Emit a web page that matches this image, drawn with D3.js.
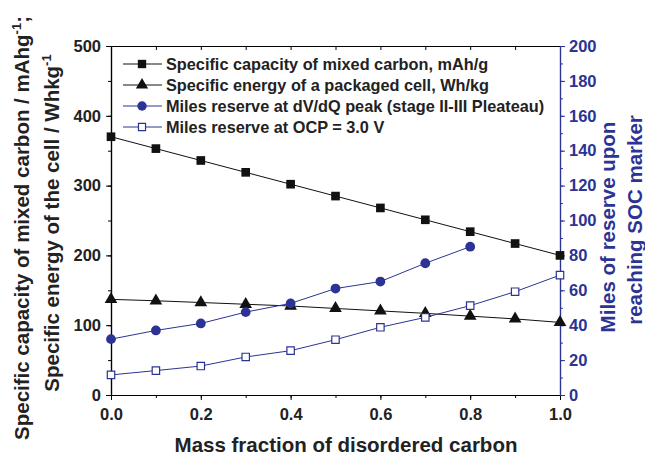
<!DOCTYPE html>
<html>
<head>
<meta charset="utf-8">
<script src="https://cdn.jsdelivr.net/npm/d3@7"></script>
<style>
  body { margin: 0; background: #fff; }
  text { font-family: "Liberation Sans", Arial, sans-serif; font-weight: bold; }
</style>
</head>
<body>
<div id="app"></div>
<script>
const massFraction = [0.0, 0.1, 0.2, 0.3, 0.4, 0.5, 0.6, 0.7, 0.8, 0.9, 1.0];
const specificCapacity = [370, 353, 336, 319, 302, 285, 268, 251, 234, 217, 200];
const specificEnergy = [137, 135, 132.5, 130, 127.5, 124, 120.5, 117, 113, 109, 104];
const milesDvdq = [32, 37, 41, 47.5, 52.5, 61, 65, 75.5, 85];
const milesOcp = [11.5, 14, 16.6, 21.8, 25.4, 31.7, 38.8, 44.5, 51.2, 59.2, 68.7];
const leftTicks = [0, 100, 200, 300, 400, 500];
const rightTicks = [0, 20, 40, 60, 80, 100, 120, 140, 160, 180, 200];
const xTicks = [0.0, 0.2, 0.4, 0.6, 0.8, 1.0];
const legendLabels = [
  "Specific capacity of mixed carbon, mAh/g",
  "Specific energy of a packaged cell, Wh/kg",
  "Miles reserve at dV/dQ peak (stage II-III Pleateau)",
  "Miles reserve at OCP = 3.0 V"
];

const w = 645, h = 455;
const blue = "#2b3494";
const m = { left: 111, right: 560, top: 46, bottom: 395 };

const svg = d3.select("#app").append("svg").attr("width", w).attr("height", h);

const x = d3.scaleLinear().domain([0, 1]).range([m.left, m.right]);
const yL = d3.scaleLinear().domain([0, 500]).range([m.bottom, m.top]);
const yR = d3.scaleLinear().domain([0, 200]).range([m.bottom, m.top]);

//axes
const fmt1 = d3.format(".1f");
const bottomMin = svg.append("g").attr("transform", `translate(0,${m.bottom})`)
  .call(d3.axisBottom(x).tickValues(d3.range(0, 1.01, 0.1)).tickSize(3).tickFormat(""));
bottomMin.select(".domain").remove();
const bottomMaj = svg.append("g").attr("transform", `translate(0,${m.bottom})`)
  .call(d3.axisBottom(x).tickValues(xTicks).tickSize(5).tickSizeOuter(0).tickPadding(8).tickFormat(fmt1));
bottomMaj.selectAll("text").attr("font-size", 16.5).attr("fill", "#222");

svg.append("g").attr("transform", `translate(0,${m.top})`)
  .call(d3.axisBottom(x).tickValues(d3.range(0, 1.01, 0.1)).tickSize(4).tickSizeOuter(0).tickFormat(""));

svg.append("g").attr("transform", `translate(${m.left},0)`)
  .call(d3.axisLeft(yL).tickValues(d3.range(0, 501, 50)).tickSize(3).tickFormat(""));
const leftMaj = svg.append("g").attr("transform", `translate(${m.left},0)`)
  .call(d3.axisLeft(yL).tickValues(leftTicks).tickSize(5).tickSizeOuter(0).tickPadding(5));
leftMaj.selectAll("text").attr("font-size", 16.5).attr("fill", "#222");

const rightMin = svg.append("g").attr("transform", `translate(${m.right},0)`)
  .call(d3.axisRight(yR).tickValues(d3.range(0, 201, 10)).tickSize(3).tickFormat(""));
const rightMaj = svg.append("g").attr("transform", `translate(${m.right},0)`)
  .call(d3.axisRight(yR).tickValues(rightTicks).tickSize(5).tickSizeOuter(0).tickPadding(4));
rightMaj.selectAll("text").attr("font-size", 16.5).attr("fill", blue);
[rightMin, rightMaj].forEach(g => g.selectAll("line,path").attr("stroke", blue));
svg.selectAll(".domain").attr("stroke-width", 1.2);

//series
const sym = (type, size) => d3.symbol().type(type).size(size);
function series(xs, ys, yScale, color, shape, size, filled) {
  const pts = ys.map((v, i) => [xs[i], v]);
  svg.append("path").datum(pts)
    .attr("fill", "none").attr("stroke", color).attr("stroke-width", 1)
    .attr("d", d3.line().x(d => x(d[0])).y(d => yScale(d[1])));
  svg.append("g").selectAll("path").data(pts).join("path")
    .attr("transform", d => `translate(${x(d[0])},${yScale(d[1])})`)
    .attr("d", sym(shape, size))
    .attr("fill", filled ? color : "#fff")
    .attr("stroke", color).attr("stroke-width", filled ? 0 : 1.2);
}
series(massFraction, specificCapacity, yL, "#111", d3.symbolSquare, 75, true);
series(massFraction, specificEnergy, yL, "#111", d3.symbolTriangle, 70, true);
series(massFraction, milesDvdq, yR, blue, d3.symbolCircle, 75, true);
series(massFraction, milesOcp, yR, blue, d3.symbolSquare, 55, false);

//legend
const legendStyle = [
  ["#111", d3.symbolSquare, 70, true],
  ["#111", d3.symbolTriangle, 65, true],
  [blue, d3.symbolCircle, 70, true],
  [blue, d3.symbolSquare, 50, false]
];
legendLabels.forEach((label, i) => {
  const [c, s, sz, f] = legendStyle[i];
  const ly = 64 + i * 21;
  const g = svg.append("g").attr("transform", `translate(0,${ly})`);
  g.append("line").attr("x1", 123).attr("x2", 162).attr("stroke", c).attr("stroke-width", 1);
  g.append("path").attr("transform", "translate(142,0)").attr("d", sym(s, sz)())
    .attr("fill", f ? c : "#fff").attr("stroke", c).attr("stroke-width", f ? 0 : 1.2);
  g.append("text").attr("x", 166).attr("y", 6).attr("font-size", 16.3).attr("fill", "#222").text(label);
});

//axis titles
svg.append("text").attr("x", 346).attr("y", 452).attr("text-anchor", "middle")
  .attr("font-size", 20.5).attr("fill", "#222").text("Mass fraction of disordered carbon");

const t1 = svg.append("text").attr("transform", "translate(29,228) rotate(-90)")
  .attr("text-anchor", "middle").attr("font-size", 20.5).attr("fill", "#222");
t1.append("tspan").text("Specific capacity of mixed carbon / mAhg");
t1.append("tspan").attr("dy", -8).attr("font-size", 13).text("-1");
t1.append("tspan").attr("dy", 8).text(";");

const t2 = svg.append("text").attr("transform", "translate(59,223) rotate(-90)")
  .attr("text-anchor", "middle").attr("font-size", 20.5).attr("fill", "#222");
t2.append("tspan").text("Specific energy of the cell / Whkg");
t2.append("tspan").attr("dy", -8).attr("font-size", 13).text("-1");

svg.append("text").attr("transform", "translate(615,227) rotate(-90)")
  .attr("text-anchor", "middle").attr("font-size", 20.5).attr("fill", blue).text("Miles of reserve upon");
svg.append("text").attr("transform", "translate(642,220) rotate(-90)")
  .attr("text-anchor", "middle").attr("font-size", 20.5).attr("fill", blue).text("reaching SOC marker");
</script>
</body>
</html>
